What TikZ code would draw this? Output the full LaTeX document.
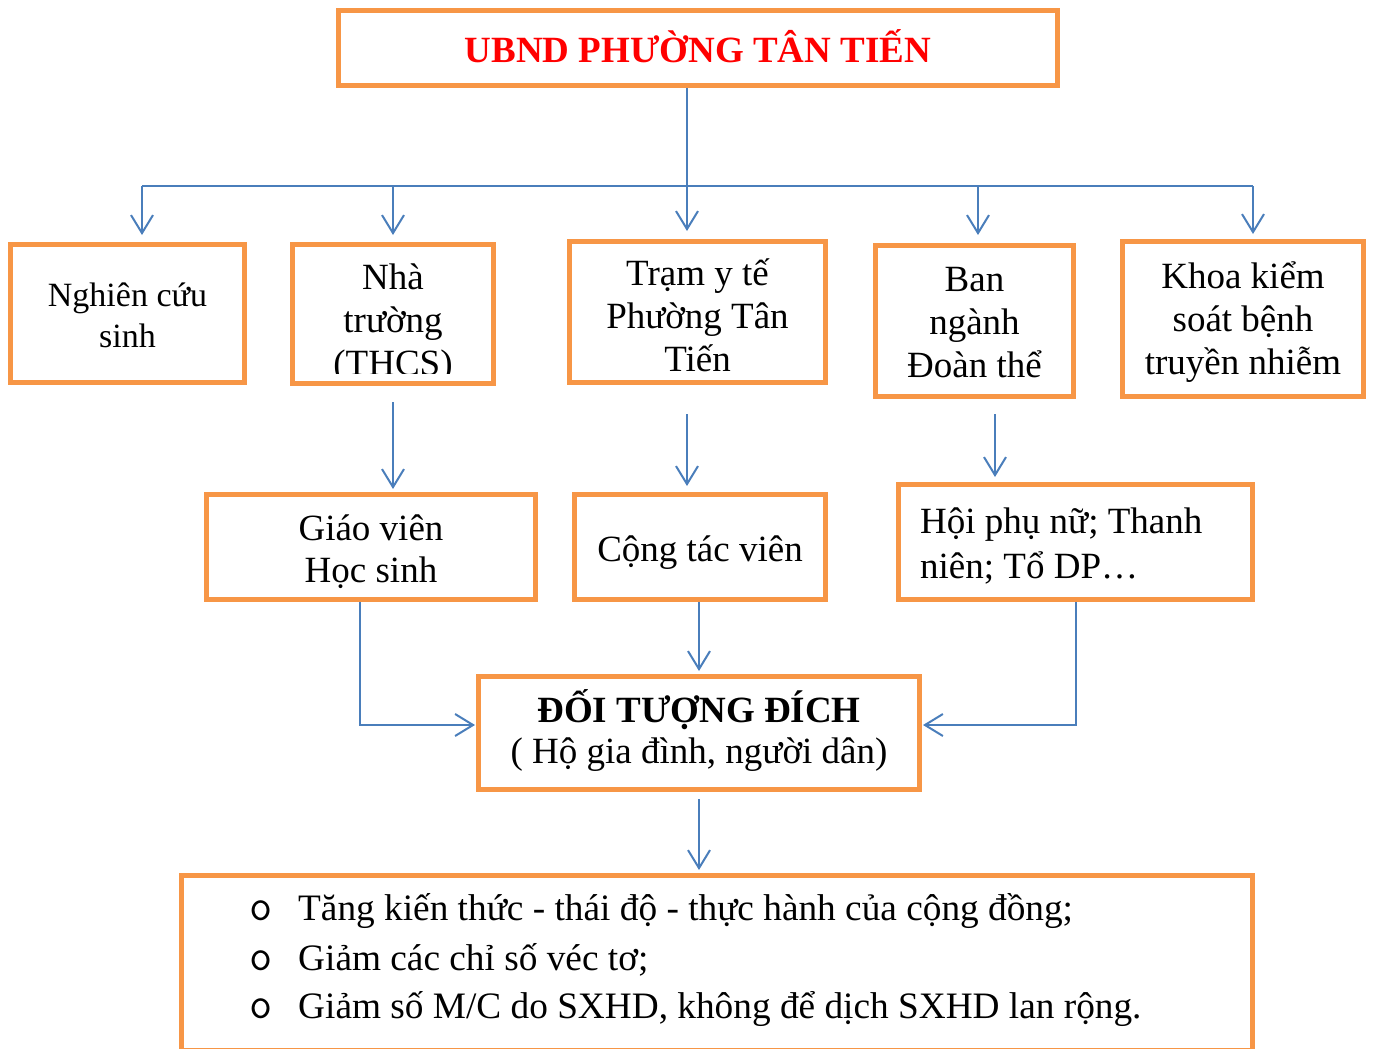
\documentclass[tikz,border=0pt]{standalone}
\usepackage{fontspec}
\setmainfont{Liberation Serif}
\usetikzlibrary{arrows.meta}
\definecolor{boxorange}{RGB}{247,150,70}
\definecolor{linkblue}{RGB}{74,126,187}
\definecolor{titlered}{RGB}{255,0,0}
\begin{document}
\begin{tikzpicture}[x=1pt,y=-1pt,
  box/.style={draw=boxorange, line width=5pt, fill=white, inner sep=0pt},
  boxtext/.style={inner sep=0pt, align=center, font=\fontsize{37}{43}\selectfont},
  link/.style={draw=linkblue, line width=2pt},
  arr/.style={link, -{Straight Barb[length=18pt,width=22pt]}, shorten >=3pt},
  listtext/.style={inner sep=0pt, anchor=base west, font=\fontsize{37.3}{43}\selectfont},
  listmark/.style={inner sep=0pt, anchor=base, font=\ttfamily\fontsize{45}{45}\selectfont},
]
\useasboundingbox (0,0) rectangle (1373,1049);
\clip (0,0) rectangle (1373,1049);

% top box
\node[box, minimum width=719pt, minimum height=75pt] (top) at (698,48) {};
\node[boxtext, text=titlered, font=\fontsize{37}{43}\selectfont\bfseries] (toptext) at (698,46) {UBND PHƯỜNG TÂN TIẾN};

% second row
\node[box, minimum width=234pt, minimum height=138pt] (ncs) at (127.5,313.5) {};
\node[boxtext, font=\fontsize{34}{41}\selectfont] (ncstext) at (127.5,315.5) {Nghiên cứu\\sinh};
\node[box, minimum width=201pt, minimum height=139pt] (nha) at (393,314) {};
\begin{scope}
  \clip (296,248) rectangle (490,373);
  \node[boxtext] (nhatext) at (393,324) {Nhà\\trường\\(THCS)};
\end{scope}
\node[box, minimum width=256pt, minimum height=141pt] (tram) at (697.5,312) {};
\node[boxtext] (tramtext) at (697.5,315) {Trạm y tế\\Phường Tân\\Tiến};
\node[box, minimum width=198pt, minimum height=151pt] (ban) at (974.5,321) {};
\node[boxtext] (bantext) at (974.5,323) {Ban\\ngành\\Đoàn thể};
\node[box, minimum width=241pt, minimum height=155pt] (khoa) at (1243,319) {};
\node[boxtext] (khoatext) at (1243,322.5) {Khoa kiểm\\soát bệnh\\truyền nhiễm};

% third row
\node[box, minimum width=329pt, minimum height=105pt] (gv) at (371,547) {};
\node[boxtext, font=\fontsize{37}{42}\selectfont] (gvtext) at (371,551.5) {Giáo viên\\Học sinh};
\node[box, minimum width=251pt, minimum height=105pt] (ctv) at (700,547) {};
\node[boxtext] (ctvtext) at (700,553) {Cộng tác viên};
\node[box, minimum width=354pt, minimum height=115pt] (hoi) at (1075.5,542) {};
\node[boxtext, font=\fontsize{37}{45}\selectfont, align=left, anchor=west]
  (hoitext) at (920,546) {Hội phụ nữ; Thanh\\niên; Tổ DP…};

% target
\node[box, minimum width=441pt, minimum height=113pt] (dich) at (699,733) {};
\node[boxtext, font=\fontsize{37}{41}\selectfont]
  (dichtext) at (699,731) {\textbf{ĐỐI TƯỢNG ĐÍCH}\\( Hộ gia đình, người dân)};

% outcome box
\node[box, minimum width=1071pt, minimum height=174.5pt] (out) at (717,962.75) {};
\node[listmark] (b1) at (261,920) {o};
\node[listmark] (b2) at (261,970) {o};
\node[listmark] (b3) at (261,1018) {o};
\node[listtext] (l1) at (298,920) {Tăng kiến thức - thái độ - thực hành của cộng đồng;};
\node[listtext] (l2) at (298,970) {Giảm các chỉ số véc tơ;};
\node[listtext] (l3) at (298,1018) {Giảm số M/C do SXHD, không để dịch SXHD lan rộng.};

% connectors from top
\coordinate (bus) at (687,186);
\coordinate (busL) at (142,186);
\coordinate (busN) at (393,186);
\coordinate (busB) at (978,186);
\coordinate (busR) at (1253,186);
\draw[link] (busL) -- (busR);
\draw[arr, shorten >=8pt] (top.south -| bus) -- (tram.north -| bus);
\draw[arr, shorten >=7pt] (busL) -- (busL |- ncs.north);
\draw[arr, shorten >=7pt] (busN) -- (busN |- nha.north);
\draw[arr, shorten >=8pt] (busB) -- (busB |- ban.north);
\draw[arr, shorten >=5pt] (busR) -- (busR |- khoa.north);

% second to third row
\coordinate (colB) at (995,0);
\draw[arr, shorten <=16pt] (nha.south) -- (gv.north -| nha.south);
\draw[arr, shorten <=29pt, shorten >=6pt] (tram.south -| bus) -- (ctv.north -| bus);
\draw[arr, shorten <=15pt, shorten >=5pt] (ban.south -| colB) -- (hoi.north -| colB);

% third row to target
\coordinate (jl) at (360,725);
\coordinate (jr) at (1076,725);
\draw[arr, shorten >=1pt] (gv.south -| jl) -- (jl) -- (jl -| dich.west);
\draw[arr, shorten >=1pt] (hoi.south -| jr) -- (jr) -- (jr -| dich.east);
\draw[arr] (ctv.south -| dich.north) -- (dich.north);

% target to outcome
\draw[arr, shorten <=7pt] (dich.south) -- (out.north -| dich.south);
\end{tikzpicture}
\end{document}
